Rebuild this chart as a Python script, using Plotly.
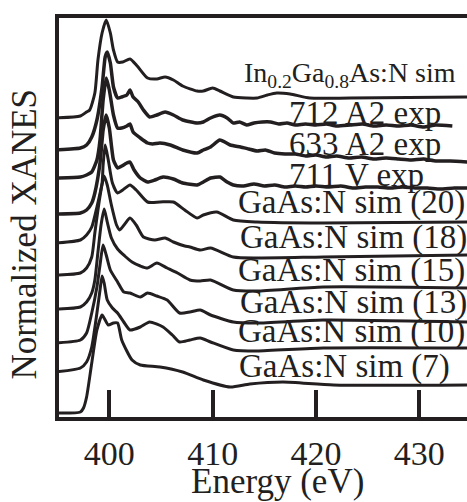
import plotly.graph_objects as go

# ---- data (energy in eV, normalized intensity above each curve's baseline) ----
LABELS = ["In<sub>0.2</sub>Ga<sub>0.8</sub>As:N sim", "712 A2 exp", "633 A2 exp", "711 V exp",
          "GaAs:N sim (20)", "GaAs:N sim (18)", "GaAs:N sim (15)", "GaAs:N sim (13)",
          "GaAs:N sim (10)", "GaAs:N sim (7)"]
OFFSETS = [3.02, 2.70, 2.42, 2.06, 1.77, 1.45, 1.11, 0.77, 0.48, 0.07]

E_INGAAS = [394.8, 397.2, 397.8, 398.1, 398.6, 398.9, 399.3, 399.7, 400.1, 400.4, 400.8, 401.3, 402.0, 402.7,
            403.7, 404.6, 405.4, 406.2, 407.1, 408.5, 409.1, 410.0, 410.7, 412.0, 413.3, 414.3, 415.3, 416.2,
            417.5, 419.4, 423.3, 434.7]
I_INGAAS = [0.00, 0.02, 0.06, 0.08, 0.25, 0.58, 0.85, 0.98, 0.85, 0.68, 0.56, 0.56, 0.59, 0.52,
            0.40, 0.39, 0.41, 0.38, 0.32, 0.27, 0.27, 0.30, 0.27, 0.21, 0.20, 0.20, 0.23, 0.25,
            0.24, 0.20, 0.20, 0.21]

E_712 = [394.8, 397.2, 397.8, 398.3, 398.8, 399.3, 399.6, 399.8, 400.1, 400.4, 400.8, 401.2, 401.7, 402.0,
         402.3, 402.8, 403.3, 403.9, 404.6, 405.4, 406.2, 407.1, 408.5, 409.1, 409.8, 410.7, 411.4, 412.0,
         412.6, 413.3, 414.0, 414.8, 415.6, 416.4, 417.2, 418.0, 419.0, 420.0, 421.0, 422.0, 423.3, 424.5,
         425.6, 426.8, 428.0, 429.2, 430.4, 431.6, 433.2]
I_712 = [0.00, 0.02, 0.05, 0.13, 0.30, 0.63, 0.93, 0.98, 0.87, 0.63, 0.52, 0.53, 0.55, 0.60,
         0.53, 0.48, 0.40, 0.33, 0.35, 0.38, 0.35, 0.30, 0.27, 0.28, 0.32, 0.35, 0.32, 0.27,
         0.28, 0.25, 0.27, 0.28, 0.28, 0.26, 0.27, 0.25, 0.26, 0.25, 0.26, 0.24, 0.25, 0.26,
         0.24, 0.25, 0.24, 0.25, 0.23, 0.25, 0.24]

E_633 = [394.8, 397.2, 397.8, 398.3, 398.8, 399.1, 399.4, 399.7, 400.0, 400.4, 400.8, 401.2, 401.7, 402.0,
         402.3, 403.0, 403.7, 404.2, 404.9, 405.9, 407.1, 408.5, 409.1, 409.8, 410.7, 411.7, 412.7, 413.5,
         414.3, 415.1, 416.0, 417.0, 418.0, 419.0, 420.0, 421.0, 422.0, 423.2, 424.4, 425.6, 426.8, 428.0,
         429.2, 430.4, 431.6, 433.0, 434.7]
I_633 = [0.00, 0.01, 0.03, 0.06, 0.18, 0.38, 0.78, 1.00, 0.88, 0.63, 0.50, 0.50, 0.52, 0.54,
         0.46, 0.40, 0.35, 0.34, 0.35, 0.33, 0.28, 0.25, 0.28, 0.31, 0.38, 0.33, 0.31, 0.29,
         0.27, 0.28, 0.25, 0.24, 0.24, 0.22, 0.23, 0.21, 0.22, 0.20, 0.21, 0.19, 0.20, 0.19,
         0.18, 0.19, 0.17, 0.17, 0.16]

E_711 = [394.8, 397.2, 397.8, 398.3, 398.6, 399.1, 399.4, 399.7, 400.0, 400.4, 400.8, 401.2, 401.7, 402.0,
         402.4, 403.0, 403.7, 404.4, 405.2, 406.2, 407.1, 408.5, 409.1, 409.8, 410.7, 411.4, 412.0, 413.0,
         414.0, 415.0, 416.0, 417.0, 418.0, 419.0, 420.0, 421.2, 422.4, 423.6, 424.8, 426.0, 427.2, 428.4,
         429.6, 430.8, 432.0, 433.4, 434.7]
I_711 = [0.00, 0.01, 0.04, 0.11, 0.21, 0.51, 0.84, 0.99, 0.86, 0.54, 0.46, 0.48, 0.51, 0.52,
         0.44, 0.36, 0.32, 0.34, 0.37, 0.35, 0.31, 0.29, 0.32, 0.36, 0.37, 0.32, 0.29, 0.28,
         0.30, 0.28, 0.29, 0.27, 0.28, 0.27, 0.28, 0.27, 0.28, 0.26, 0.27, 0.27, 0.26, 0.27,
         0.26, 0.26, 0.25, 0.26, 0.26]

E_S20 = [394.8, 397.2, 397.8, 398.3, 398.8, 399.3, 399.4, 399.6, 399.9, 400.3, 400.8, 401.3, 402.0, 402.6,
         403.7, 404.9, 406.2, 407.3, 408.5, 409.1, 410.4, 412.0, 414.3, 420.7, 434.7]
I_S20 = [0.00, 0.03, 0.08, 0.16, 0.36, 0.60, 0.78, 0.98, 0.83, 0.60, 0.50, 0.53, 0.58, 0.53,
         0.41, 0.41, 0.41, 0.33, 0.25, 0.28, 0.31, 0.23, 0.21, 0.20, 0.21]

E_S18 = [394.8, 397.2, 397.8, 398.3, 398.6, 398.9, 399.2, 399.5, 399.8, 400.2, 400.7, 401.0, 401.5, 402.0,
         402.6, 403.3, 404.4, 405.4, 406.2, 407.3, 407.8, 408.8, 409.8, 412.0, 414.3, 420.7, 434.7]
I_S18 = [0.00, 0.02, 0.07, 0.18, 0.42, 0.65, 0.85, 0.99, 0.90, 0.70, 0.50, 0.45, 0.51, 0.57,
         0.50, 0.38, 0.35, 0.37, 0.33, 0.29, 0.28, 0.25, 0.27, 0.18, 0.17, 0.18, 0.20]

E_S15 = [394.8, 397.2, 397.8, 398.3, 398.6, 398.9, 399.2, 399.5, 399.8, 400.2, 400.8, 401.5, 402.2, 403.0,
         403.7, 404.6, 405.6, 406.6, 407.8, 408.8, 409.8, 412.0, 414.3, 420.7, 434.7]
I_S15 = [0.00, 0.02, 0.07, 0.16, 0.29, 0.57, 0.84, 1.00, 0.87, 0.71, 0.60, 0.53, 0.47, 0.43,
         0.41, 0.46, 0.41, 0.36, 0.29, 0.28, 0.29, 0.19, 0.18, 0.22, 0.21]

E_S13 = [394.8, 397.2, 397.8, 398.3, 398.8, 399.1, 399.4, 399.7, 400.1, 400.8, 401.4, 402.0, 403.0, 403.7,
         404.6, 405.6, 406.8, 407.8, 408.8, 409.8, 412.0, 414.3, 420.7, 434.7]
I_S13 = [0.00, 0.03, 0.10, 0.30, 0.56, 0.78, 0.98, 0.88, 0.73, 0.61, 0.51, 0.50, 0.46, 0.50,
         0.47, 0.43, 0.30, 0.31, 0.33, 0.28, 0.21, 0.20, 0.23, 0.21]

E_S10 = [394.8, 397.2, 397.8, 398.3, 398.8, 399.1, 399.3, 399.5, 399.8, 400.3, 400.8, 401.4, 402.0, 403.0,
         403.9, 405.2, 406.1, 406.8, 407.8, 408.8, 409.8, 412.0, 414.3, 420.7, 434.7]
I_S10 = [0.00, 0.04, 0.10, 0.25, 0.59, 0.82, 0.96, 0.89, 0.72, 0.64, 0.59, 0.50, 0.42, 0.45,
         0.50, 0.45, 0.37, 0.30, 0.32, 0.34, 0.30, 0.22, 0.21, 0.24, 0.24]

E_S7 = [394.8, 397.2, 397.5, 397.8, 398.3, 398.8, 399.3, 399.6, 399.9, 400.4, 400.8, 401.2, 402.2, 403.0,
        404.9, 407.1, 409.1, 411.7, 413.6, 416.8, 421.7, 434.7]
I_S7 = [0.00, 0.01, 0.05, 0.16, 0.50, 0.83, 0.98, 0.93, 0.88, 0.90, 0.90, 0.73, 0.53, 0.48,
        0.46, 0.41, 0.33, 0.26, 0.29, 0.31, 0.28, 0.28]

ENERGIES = [E_INGAAS, E_712, E_633, E_711, E_S20, E_S18, E_S15, E_S13, E_S10, E_S7]
INTENS = [I_INGAAS, I_712, I_633, I_711, I_S20, I_S18, I_S15, I_S13, I_S10, I_S7]
IS_EXP = [False, True, True, True, False, False, False, False, False, False]

# label anchor positions (energy of left edge, height of text middle)
LABEL_E = [412.8, 417.2, 417.2, 417.2, 412.3, 412.5, 412.3, 412.5, 412.3, 412.4]
LABEL_Y = [3.46, 3.075, 2.765, 2.455, 2.175, 1.825, 1.495, 1.175, 0.89, 0.54]
LABEL_SIZE = [28, 33, 33, 33, 33, 33, 33, 33, 33, 33]

XTICKS = [400, 410, 420, 430]

INK = "#231f20"
FONT = "Liberation Serif"

fig = go.Figure()
for e, inten, off, exp in zip(ENERGIES, INTENS, OFFSETS, IS_EXP):
    fig.add_trace(go.Scatter(x=e, y=[v + off for v in inten], mode="lines",
                             line=dict(color=INK, width=3.5 if exp else 3, shape="spline",
                                       smoothing=0.5 if exp else 0.6),
                             showlegend=False, hoverinfo="skip"))

for lab, le, ly, ls in zip(LABELS, LABEL_E, LABEL_Y, LABEL_SIZE):
    fig.add_annotation(x=le, y=ly, xref="x", yref="y", text=lab, showarrow=False,
                       xanchor="left", yanchor="middle",
                       font=dict(family=FONT, size=ls, color=INK))

fig.add_annotation(x=0.535, y=-0.162, xref="paper", yref="paper", text="Energy (eV)",
                   showarrow=False, xanchor="center", yanchor="middle",
                   font=dict(family=FONT, size=35, color=INK))
fig.add_annotation(x=-0.085, y=0.458, xref="paper", yref="paper", text="Normalized XANES",
                   showarrow=False, xanchor="center", yanchor="middle", textangle=-90,
                   font=dict(family=FONT, size=35, color=INK))

fig.update_layout(
    width=467, height=502,
    margin=dict(l=59, r=0, t=18, b=85),
    paper_bgcolor="white", plot_bgcolor="white",
    font=dict(family=FONT, color=INK),
    xaxis=dict(range=[395.13, 434.62], tickvals=XTICKS, ticks="inside", ticklen=27, tickwidth=4,
               tickcolor=INK, showline=True, linewidth=4, linecolor=INK, mirror=True,
               showgrid=False, zeroline=False, ticklabelstandoff=3, automargin=False,
               tickfont=dict(family=FONT, size=34, color=INK)),
    yaxis=dict(range=[0.03, 4.02], showticklabels=False, ticks="", showline=True, linewidth=4,
               linecolor=INK, mirror=False, showgrid=False, zeroline=False, automargin=False),
)

fig.write_html("out.html", config={"displayModeBar": False},
               post_script="document.body.style.margin='0';document.body.style.overflow='hidden';")
